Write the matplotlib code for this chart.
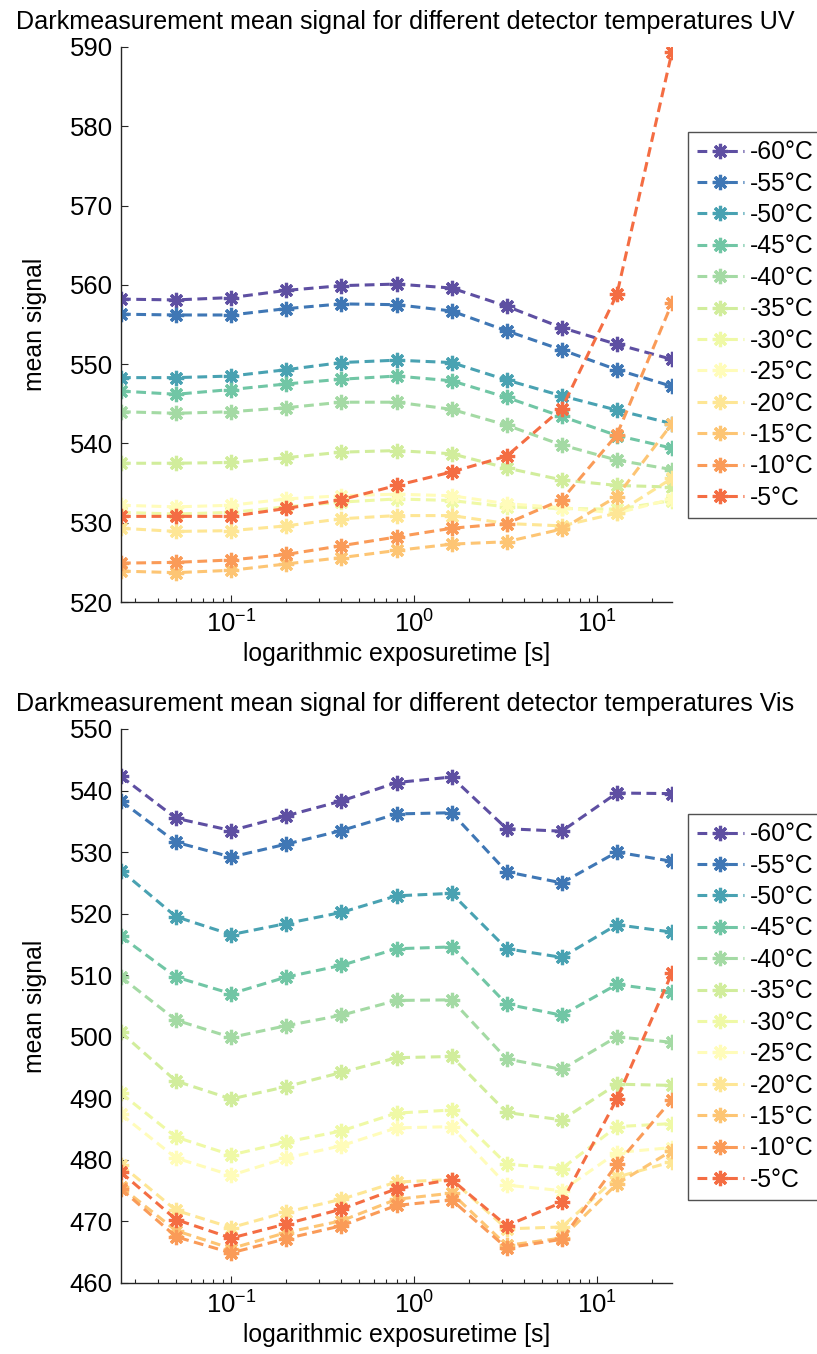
import numpy as np
import matplotlib
matplotlib.use('Agg')
import matplotlib.pyplot as plt

plt.rcParams['font.family'] = ['Liberation Sans', 'DejaVu Sans']
plt.rcParams['mathtext.fontset'] = 'custom'
plt.rcParams['mathtext.rm'] = 'Liberation Sans'

# exposure times [s]
exposure = [0.025, 0.05, 0.1, 0.2, 0.4, 0.8, 1.6, 3.2, 6.4, 12.8, 25.6]
temps = ['-60°C', '-55°C', '-50°C', '-45°C', '-40°C', '-35°C',
         '-30°C', '-25°C', '-20°C', '-15°C', '-10°C', '-5°C']

# UV detector, mean dark signal per temperature
uv_signal = [
    [558.2, 558.1, 558.4, 559.3, 559.9, 560.1, 559.6, 557.3, 554.6, 552.5, 550.6],
    [556.3, 556.2, 556.2, 557.0, 557.6, 557.5, 556.7, 554.2, 551.8, 549.3, 547.2],
    [548.3, 548.3, 548.5, 549.3, 550.2, 550.5, 550.2, 548.0, 546.0, 544.2, 542.5],
    [546.6, 546.2, 546.8, 547.5, 548.1, 548.5, 547.9, 545.8, 543.4, 541.0, 539.4],
    [544.0, 543.8, 544.0, 544.5, 545.2, 545.2, 544.3, 542.3, 539.8, 537.9, 536.7],
    [537.5, 537.5, 537.6, 538.2, 538.9, 539.1, 538.7, 536.9, 535.4, 534.7, 534.5],
    [531.3, 531.1, 531.3, 532.0, 532.6, 533.0, 532.8, 532.0, 531.8, 531.7, 532.8],
    [532.2, 532.0, 532.2, 533.0, 533.4, 533.6, 533.4, 532.4, 531.9, 531.2, 533.0],
    [529.3, 528.9, 529.0, 529.6, 530.5, 530.9, 530.9, 529.9, 529.6, 531.2, 535.6],
    [523.9, 523.7, 524.0, 524.8, 525.6, 526.5, 527.3, 527.6, 529.2, 533.3, 542.5],
    [524.9, 525.0, 525.3, 526.0, 527.1, 528.2, 529.3, 529.9, 532.9, 541.1, 557.7],
    [530.8, 530.8, 530.8, 531.8, 532.9, 534.7, 536.4, 538.4, 544.4, 558.8, 589.4],
]

# Vis detector, mean dark signal per temperature
vis_signal = [
    [542.3, 535.5, 533.5, 535.9, 538.3, 541.3, 542.2, 533.8, 533.4, 539.6, 539.5],
    [538.3, 531.6, 529.2, 531.3, 533.5, 536.2, 536.4, 526.8, 525.0, 530.0, 528.5],
    [527.0, 519.5, 516.6, 518.4, 520.2, 522.9, 523.3, 514.3, 512.9, 518.2, 517.0],
    [516.3, 509.7, 507.0, 509.7, 511.6, 514.3, 514.6, 505.3, 503.5, 508.5, 507.3],
    [509.7, 502.7, 499.9, 501.8, 503.5, 505.9, 506.0, 496.4, 494.7, 500.0, 499.1],
    [500.7, 492.8, 489.9, 491.9, 494.2, 496.6, 496.8, 487.7, 486.5, 492.3, 492.1],
    [490.8, 483.7, 480.8, 482.9, 484.7, 487.6, 488.1, 479.3, 478.6, 485.4, 485.9],
    [487.4, 480.3, 477.5, 480.3, 482.3, 485.2, 485.4, 475.9, 475.0, 481.2, 482.0],
    [479.2, 471.8, 469.0, 471.5, 473.6, 476.4, 476.8, 468.8, 469.1, 477.2, 479.7],
    [475.6, 468.5, 465.6, 468.2, 470.1, 473.6, 474.6, 466.1, 467.3, 476.1, 481.5],
    [475.3, 467.5, 464.9, 467.2, 469.3, 472.6, 473.5, 465.7, 467.1, 479.3, 489.8],
    [478.0, 470.3, 467.3, 469.6, 472.0, 475.3, 476.8, 469.3, 473.1, 489.9, 510.4],
]

colors = plt.cm.Spectral(np.linspace(1.0, 0.2, len(temps)))

W, H = 817, 1354
fig = plt.figure(figsize=(W / 100, H / 100), dpi=100)


def make_panel(rect, data, title, ylim, legend_center_y):
    ax = fig.add_axes(rect)
    for i, series in enumerate(data):
        ax.plot(exposure, series, linestyle='--', dashes=(3.2, 1.8), linewidth=2.2,
                color=colors[i], marker=(8, 2, 0), markersize=11, markeredgewidth=2.3,
                label=temps[i])
    ax.set_xscale('log')
    ax.set_xlim(exposure[0], exposure[-1])
    ax.set_ylim(*ylim)
    ax.set_yticks(np.arange(ylim[0], ylim[1] + 1, 10))
    ax.spines['top'].set_visible(False)
    ax.spines['right'].set_visible(False)
    for s in ['left', 'bottom']:
        ax.spines[s].set_color('#262626')
        ax.spines[s].set_linewidth(1.0)
    ax.tick_params(which='major', direction='in', length=5, width=0.8,
                   labelsize=18.5, colors='#262626', labelcolor='black', pad=6)
    ax.tick_params(which='minor', direction='in', length=3, width=0.8, colors='#262626')
    ax.set_xlabel('logarithmic exposuretime [s]', fontsize=17.8, labelpad=3)
    ax.set_ylabel('mean signal', fontsize=17.8, labelpad=16)
    ax.set_title(title, fontsize=18.1, pad=13, x=0.516)
    leg = ax.legend(loc='center left', bbox_to_anchor=(688 / W, legend_center_y),
                    bbox_transform=fig.transFigure, fontsize=17.8, frameon=True,
                    fancybox=False, handlelength=1.9, handletextpad=0.25,
                    labelspacing=0.3, borderpad=0.35, borderaxespad=0)
    leg.get_frame().set_edgecolor('#262626')
    leg.get_frame().set_linewidth(1.0)
    return ax


make_panel([121 / W, 1 - 602 / H, 551 / W, 555 / H], uv_signal,
           'Darkmeasurement mean signal for different detector temperatures UV',
           (520, 590), 1 - 325 / H)
make_panel([121 / W, 1 - 1283 / H, 551 / W, 554 / H], vis_signal,
           'Darkmeasurement mean signal for different detector temperatures Vis',
           (460, 550), 1 - 1007 / H)

fig.savefig('out.png', dpi=100)
